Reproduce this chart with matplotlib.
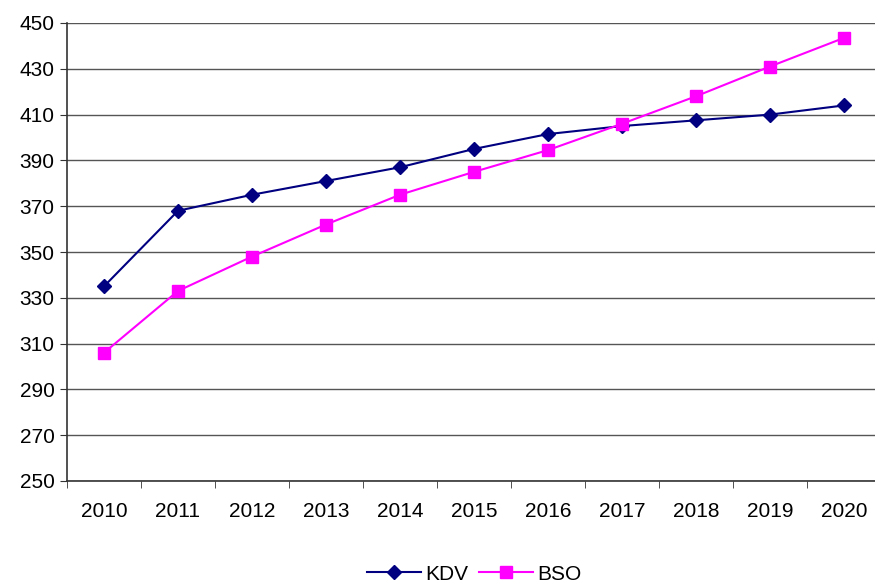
import matplotlib
matplotlib.use("Agg")
import matplotlib.pyplot as plt
import numpy as np

# data
years = ["2010", "2011", "2012", "2013", "2014", "2015",
         "2016", "2017", "2018", "2019", "2020"]
kdv = [335, 368, 375, 381, 387, 395, 401.5, 405, 407.5, 410, 414]
bso = [306, 333, 348, 362, 375, 385, 394.5, 406, 418, 431, 443.5]
y_ticks = list(range(250, 451, 20))

plt.rcParams['font.family'] = ['Liberation Sans', 'DejaVu Sans']
fs = 15

fig = plt.figure(figsize=(8.75, 5.86), dpi=100)
ax = fig.add_axes([67 / 875, 1 - 481 / 586, 814 / 875, 458 / 586])

x = np.arange(len(years)) + 0.5
ax.plot(x, kdv, color='#000080', lw=1.5, marker='D', ms=7.5,
        label='KDV', zorder=3)
ax.plot(x, bso, color='#FF00FF', lw=1.5, marker='s', ms=9,
        label='BSO', zorder=3)

ax.set_ylim(250, 450)
ax.set_yticks(y_ticks)
ax.set_xlim(0, len(years))
ax.set_xticks(x)
ax.set_xticklabels(years)
ax.set_xticks(np.arange(len(years) + 1), minor=True)
ax.tick_params(axis='x', which='major', length=0, pad=15, labelsize=fs)
ax.tick_params(axis='x', which='minor', length=5, color='#333333')
ax.tick_params(axis='y', length=5, color='#333333', labelsize=fs, pad=4)

ax.grid(axis='y', color='#555555', lw=1)
ax.set_axisbelow(True)
for s in ['top', 'right']:
    ax.spines[s].set_visible(False)
ax.spines['left'].set_color('#333333')
ax.spines['bottom'].set_color('#333333')
ax.spines['left'].set_linewidth(1.2)
ax.spines['bottom'].set_linewidth(1.2)

fig.legend(loc='center', bbox_to_anchor=(474 / 875, 1 - 574 / 586),
           ncol=2, frameon=False, fontsize=fs, handlelength=2.6,
           columnspacing=0.5, handletextpad=0.2)

fig.savefig('out.png', dpi=100)
